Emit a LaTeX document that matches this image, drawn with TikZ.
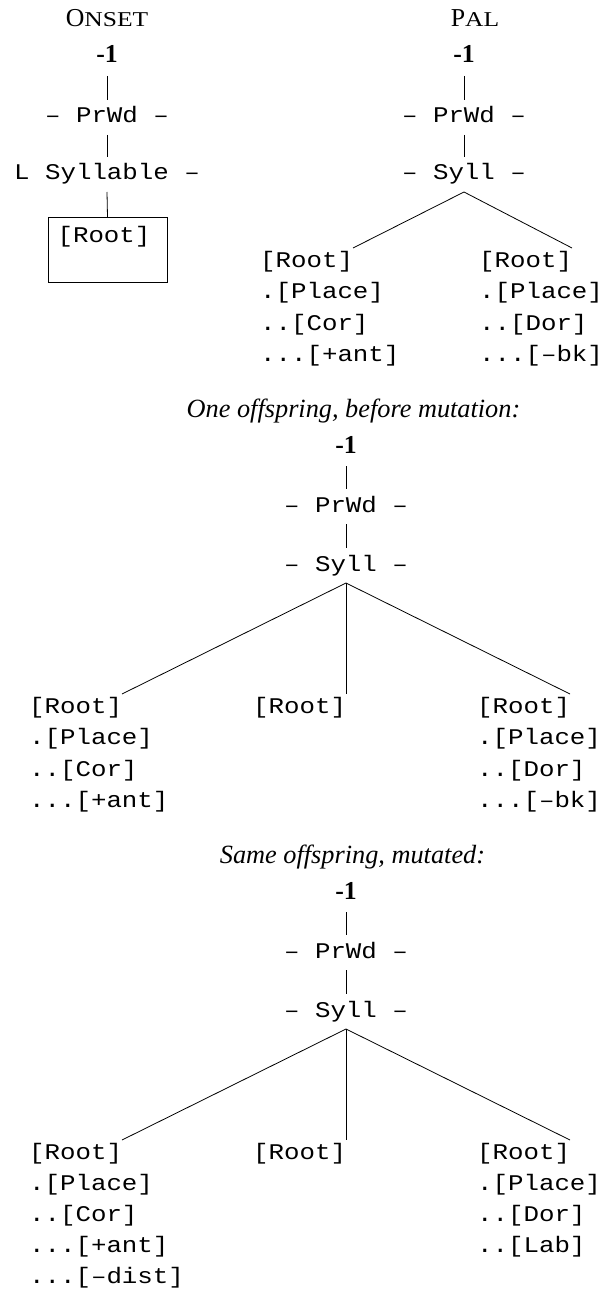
\documentclass[tikz,border=0pt]{standalone}
\usepackage{graphicx}
\usepackage{fontspec}
\setmainfont{Liberation Serif}
\newfontfamily\courfont[FakeStretch=1.152]{Liberation Mono}
\newcommand\fakesc[1]{\scalebox{1.21}[1]{\fontsize{21.1}{20}\selectfont #1}}
\newcommand\monosize{\fontsize{22.4}{31.5}\selectfont\courfont}
\tikzset{
  txt/.style={inner sep=0pt, outer sep=0pt, font=\fontsize{25.8}{31.5}\selectfont},
  mono/.style={txt, font=\monosize, text height=23pt, text depth=12pt},
  leaf/.style={txt, font=\monosize, text height=19pt, text depth=6pt},
  feat/.style={txt, font=\monosize, anchor=base west},
  num/.style={txt, font=\fontsize{25.8}{31.5}\selectfont\bfseries, text depth=13pt},
  ttl/.style={txt, font=\fontsize{25.8}{31.5}\selectfont},
  capt/.style={txt, font=\fontsize{26.3}{31.5}\selectfont\itshape},
  edge/.style={draw, line width=0.8pt},
  frame/.style={draw, line width=0.8pt, inner sep=0pt, minimum width=119pt, minimum height=65pt}
}
\begin{document}
\begin{tikzpicture}[x=1pt,y=-1pt]
\useasboundingbox (0,0) rectangle (603,1289);
% ---------- ONSET ----------
\node[ttl, anchor=base] (t1) at (107,27) {O\fakesc{NSET}};
\node[num, anchor=base] (n1) at (107,63) {-1};
\node[mono, anchor=base] (w1) at (107,123) {– PrWd –};
\node[mono, anchor=base] (s1) at (107,180) {L Syllable –};
\node[frame, anchor=north] (b1) at (107.5,217) {};
\node[txt, font=\monosize, anchor=base] (r1) at (104,243) {[Root]};
\draw[edge] (n1.south) -- (w1.north);
\draw[edge] (w1.south) -- (s1.north);
\draw[edge] (s1.south) -- (b1.north);
% ---------- PAL ----------
\node[ttl, anchor=base] (t2) at (475,27) {P\fakesc{AL}};
\node[num, anchor=base] (n2) at (464,63) {-1};
\node[mono, anchor=base] (w2) at (464,123) {– PrWd –};
\node[mono, anchor=base] (s2) at (464,180) {– Syll –};
\node[leaf, anchor=north east] (ra2) at (353,248) {[Root]};
\node[feat] (ra2a) at ([yshift=-31.6pt]ra2.base west) {.[Place]};
\node[feat] (ra2b) at ([yshift=-31.6pt]ra2a.base west) {..[Cor]};
\node[feat] (ra2c) at ([yshift=-31.6pt]ra2b.base west) {...[+ant]};
\node[leaf, anchor=north east] (rb2) at (572,248) {[Root]};
\node[feat] (rb2a) at ([yshift=-31.6pt]rb2.base west) {.[Place]};
\node[feat] (rb2b) at ([yshift=-31.6pt]rb2a.base west) {..[Dor]};
\node[feat] (rb2c) at ([yshift=-31.6pt]rb2b.base west) {...[–bk]};
\draw[edge] (n2.south) -- (w2.north);
\draw[edge] (w2.south) -- (s2.north);
\draw[edge] (s2.south) -- (ra2.north east);
\draw[edge] (s2.south) -- (rb2.north east);
% ---------- before mutation ----------
\node[capt, anchor=base] (c3) at (353.5,417) {One offspring, before mutation:};
\node[num, anchor=base] (n3) at (346,453) {-1};
\node[mono, anchor=base] (w3) at (346,512) {– PrWd –};
\node[mono, anchor=base] (s3) at (346,571) {– Syll –};
\node[leaf, anchor=north east] (ra3) at (122,694) {[Root]};
\node[feat] (ra3a) at ([yshift=-31.6pt]ra3.base west) {.[Place]};
\node[feat] (ra3b) at ([yshift=-31.6pt]ra3a.base west) {..[Cor]};
\node[feat] (ra3c) at ([yshift=-31.6pt]ra3b.base west) {...[+ant]};
\node[leaf, anchor=north east] (rb3) at (346,694) {[Root]};
\node[leaf, anchor=north east] (rc3) at (570,694) {[Root]};
\node[feat] (rc3a) at ([yshift=-31.6pt]rc3.base west) {.[Place]};
\node[feat] (rc3b) at ([yshift=-31.6pt]rc3a.base west) {..[Dor]};
\node[feat] (rc3c) at ([yshift=-31.6pt]rc3b.base west) {...[–bk]};
\draw[edge] (n3.south) -- (w3.north);
\draw[edge] (w3.south) -- (s3.north);
\draw[edge] (s3.south) -- (ra3.north east);
\draw[edge] (s3.south) -- (rb3.north east);
\draw[edge] (s3.south) -- (rc3.north east);
% ---------- mutated ----------
\node[capt, anchor=base] (c4) at (352.5,863) {Same offspring, mutated:};
\node[num, anchor=base] (n4) at (346,899) {-1};
\node[mono, anchor=base] (w4) at (346,958) {– PrWd –};
\node[mono, anchor=base] (s4) at (346,1017) {– Syll –};
\node[leaf, anchor=north east] (ra4) at (122,1140) {[Root]};
\node[feat] (ra4a) at ([yshift=-31pt]ra4.base west) {.[Place]};
\node[feat] (ra4b) at ([yshift=-31pt]ra4a.base west) {..[Cor]};
\node[feat] (ra4c) at ([yshift=-31pt]ra4b.base west) {...[+ant]};
\node[feat] (ra4d) at ([yshift=-31pt]ra4c.base west) {...[–dist]};
\node[leaf, anchor=north east] (rb4) at (346,1140) {[Root]};
\node[leaf, anchor=north east] (rc4) at (570,1140) {[Root]};
\node[feat] (rc4a) at ([yshift=-31pt]rc4.base west) {.[Place]};
\node[feat] (rc4b) at ([yshift=-31pt]rc4a.base west) {..[Dor]};
\node[feat] (rc4c) at ([yshift=-31pt]rc4b.base west) {..[Lab]};
\draw[edge] (n4.south) -- (w4.north);
\draw[edge] (w4.south) -- (s4.north);
\draw[edge] (s4.south) -- (ra4.north east);
\draw[edge] (s4.south) -- (rb4.north east);
\draw[edge] (s4.south) -- (rc4.north east);
\end{tikzpicture}
\end{document}
